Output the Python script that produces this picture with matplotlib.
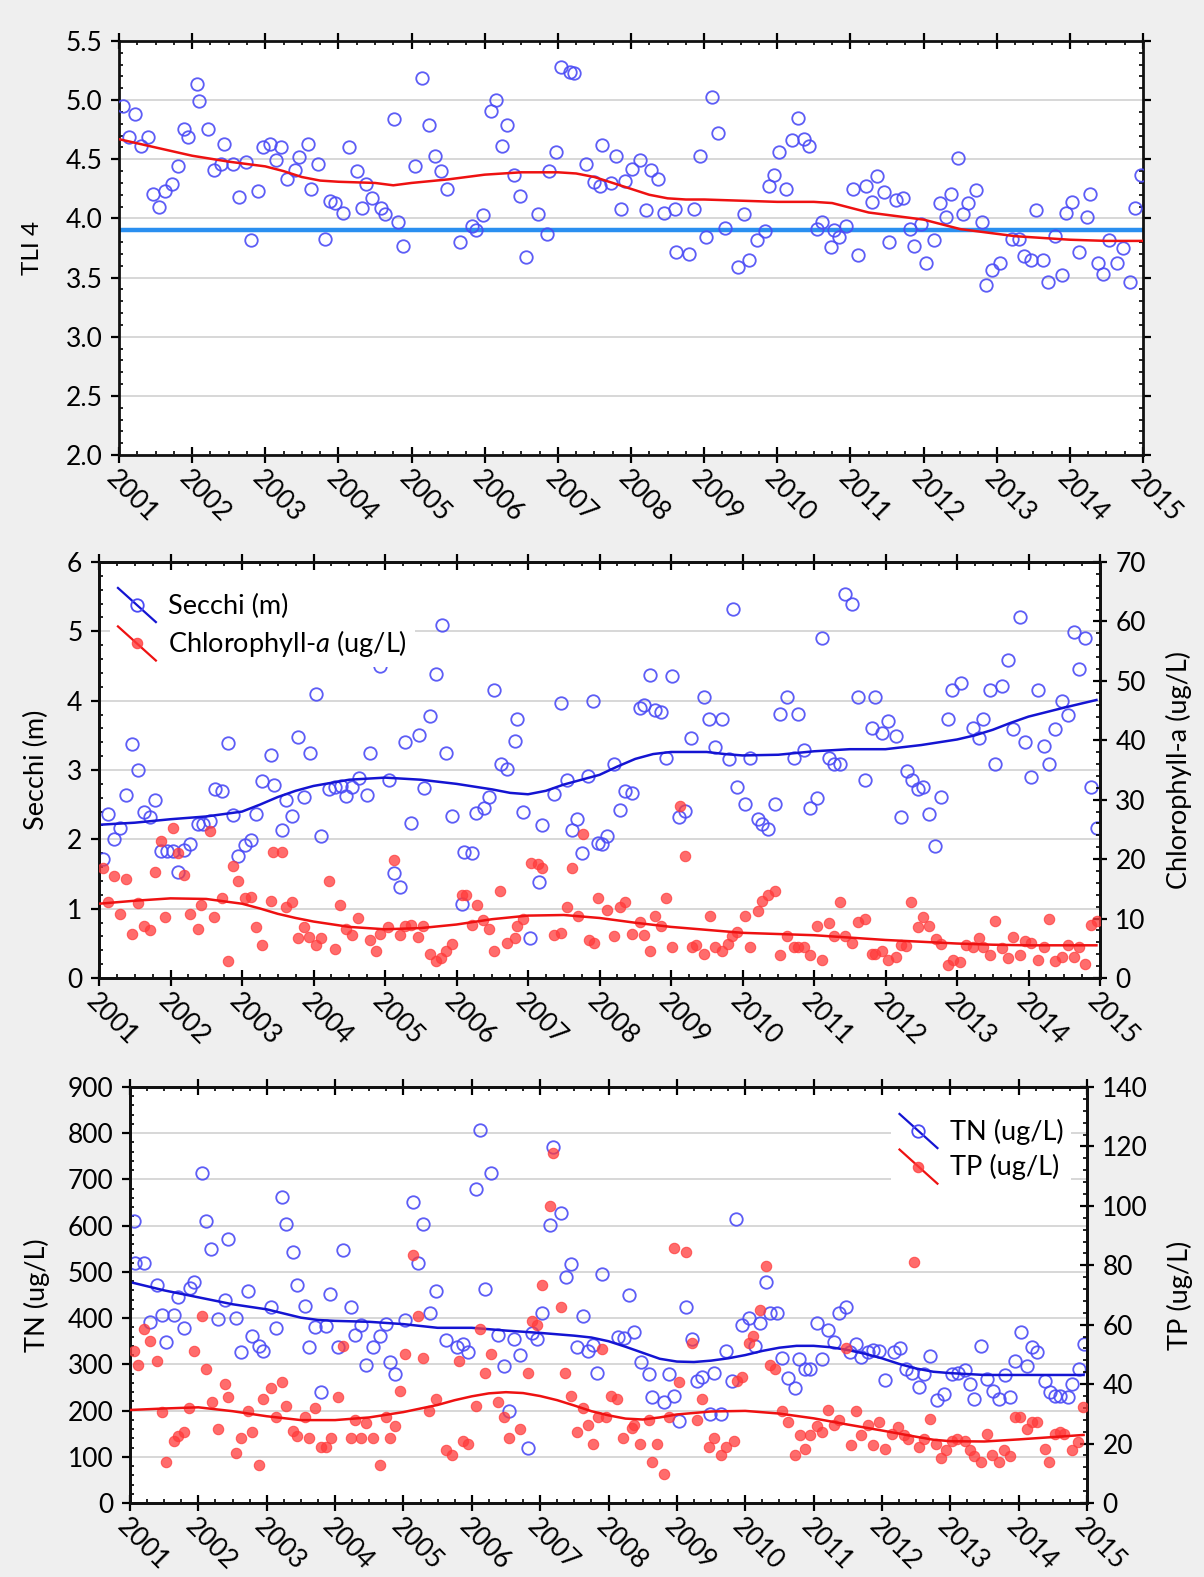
import numpy as np
import matplotlib
matplotlib.use("Agg")
import matplotlib.pyplot as plt
from matplotlib.lines import Line2D
from matplotlib.legend_handler import HandlerBase
from matplotlib.ticker import MultipleLocator, FormatStrFormatter

plt.rcParams['font.family'] = ['Lato', 'DejaVu Sans']
plt.rcParams['mathtext.fontset'] = 'custom'
plt.rcParams['mathtext.it'] = 'Lato:italic'
plt.rcParams['mathtext.rm'] = 'Lato'

# ---------------- data ----------------
years = list(range(2001, 2016))

tli_year = [2001.05, 2001.22, 2001.13, 2001.30, 2001.39, 2001.47, 2001.55, 2001.63, 2001.72, 2001.80,
            2001.89, 2001.94, 2002.06, 2002.10, 2002.21, 2002.30, 2002.39, 2002.44, 2002.56, 2002.64,
            2002.73, 2002.81, 2002.90, 2002.97, 2003.06, 2003.14, 2003.22, 2003.30, 2003.40, 2003.46,
            2003.58, 2003.63, 2003.72, 2003.81, 2003.88, 2003.95, 2004.06, 2004.14, 2004.25, 2004.32,
            2004.38, 2004.46, 2004.58, 2004.64, 2004.76, 2004.81, 2004.88, 2005.05, 2005.14, 2005.24,
            2005.32, 2005.40, 2005.48, 2005.66, 2005.82, 2005.88, 2005.97, 2006.09, 2006.15, 2006.24,
            2006.31, 2006.40, 2006.48, 2006.57, 2006.73, 2006.85, 2006.88, 2006.97, 2007.04, 2007.17,
            2007.22, 2007.39, 2007.49, 2007.57, 2007.60, 2007.72, 2007.79, 2007.87, 2007.92, 2008.02,
            2008.12, 2008.20, 2008.28, 2008.37, 2008.45, 2008.60, 2008.61, 2008.79, 2008.86, 2008.94,
            2009.03, 2009.11, 2009.19, 2009.29, 2009.46, 2009.54, 2009.61, 2009.72, 2009.83, 2009.88,
            2009.95, 2010.03, 2010.12, 2010.20, 2010.29, 2010.36, 2010.44, 2010.54, 2010.61, 2010.73,
            2010.78, 2010.85, 2010.94, 2011.03, 2011.11, 2011.21, 2011.29, 2011.37, 2011.46, 2011.53,
            2011.62, 2011.72, 2011.81, 2011.87, 2011.96, 2012.04, 2012.14, 2012.23, 2012.30, 2012.37,
            2012.47, 2012.54, 2012.61, 2012.71, 2012.80, 2012.86, 2012.93, 2013.04, 2013.21, 2013.31,
            2013.37, 2013.47, 2013.54, 2013.63, 2013.70, 2013.80, 2013.89, 2013.95, 2014.03, 2014.12,
            2014.23, 2014.28, 2014.39, 2014.45, 2014.54, 2014.64, 2014.73, 2014.82, 2014.89, 2014.97]
tli_val = [4.95, 4.88, 4.69, 4.61, 4.69, 4.21, 4.10, 4.23, 4.29, 4.44,
           4.76, 4.69, 5.14, 4.99, 4.76, 4.41, 4.46, 4.63, 4.46, 4.18,
           4.48, 3.82, 4.23, 4.60, 4.63, 4.49, 4.60, 4.33, 4.41, 4.52,
           4.63, 4.25, 4.46, 3.83, 4.15, 4.13, 4.05, 4.60, 4.40, 4.09,
           4.29, 4.17, 4.09, 4.04, 4.84, 3.97, 3.77, 4.44, 5.19, 4.79,
           4.53, 4.40, 4.25, 3.80, 3.94, 3.90, 4.03, 4.91, 5.00, 4.61,
           4.79, 4.37, 4.19, 3.67, 4.04, 3.87, 4.40, 4.56, 5.28, 5.24,
           5.23, 4.46, 4.31, 4.27, 4.62, 4.30, 4.53, 4.08, 4.32, 4.42,
           4.49, 4.07, 4.41, 4.33, 4.05, 4.08, 3.72, 3.70, 4.08, 4.53,
           3.84, 5.03, 4.72, 3.92, 3.59, 4.04, 3.65, 3.82, 3.89, 4.27,
           4.37, 4.56, 4.25, 4.66, 4.85, 4.67, 4.61, 3.91, 3.97, 3.76,
           3.90, 3.84, 3.94, 4.25, 3.69, 4.27, 4.14, 4.36, 4.22, 3.80,
           4.16, 4.17, 3.91, 3.77, 3.95, 3.62, 3.82, 4.13, 4.01, 4.21,
           4.51, 4.04, 4.13, 4.24, 3.97, 3.44, 3.56, 3.62, 3.83, 3.83,
           3.68, 3.65, 4.07, 3.65, 3.46, 3.85, 3.52, 4.05, 4.14, 3.72,
           4.01, 4.21, 3.62, 3.53, 3.82, 3.62, 3.75, 3.46, 4.09, 4.37]
tli_trend_year = [2001.0, 2001.5, 2002.0, 2002.5, 2003.0, 2003.25, 2003.5, 2003.75, 2004.0, 2004.5,
                  2004.75, 2005.0, 2005.5, 2006.0, 2006.5, 2007.0, 2007.25, 2007.5, 2007.75, 2008.0,
                  2008.25, 2008.5, 2008.75, 2009.0, 2009.5, 2010.0, 2010.5, 2010.75, 2011.0, 2011.25,
                  2011.5, 2011.75, 2012.0, 2012.25, 2012.5, 2012.75, 2013.0, 2013.25, 2013.5, 2014.0,
                  2014.5, 2015.0]
tli_trend = [4.67, 4.60, 4.53, 4.48, 4.44, 4.40, 4.35, 4.32, 4.31, 4.30,
             4.28, 4.30, 4.33, 4.37, 4.39, 4.39, 4.38, 4.35, 4.30, 4.25,
             4.20, 4.17, 4.16, 4.16, 4.15, 4.14, 4.14, 4.13, 4.09, 4.05,
             4.03, 4.01, 3.99, 3.95, 3.91, 3.89, 3.87, 3.85, 3.84, 3.82,
             3.81, 3.81]
tli_target = 3.9

secchi_year = [2001.05, 2001.13, 2001.21, 2001.29, 2001.38, 2001.46, 2001.54, 2001.63, 2001.72, 2001.78,
               2001.87, 2001.95, 2002.03, 2002.10, 2002.19, 2002.27, 2002.38, 2002.45, 2002.55, 2002.62,
               2002.72, 2002.80, 2002.88, 2002.95, 2003.04, 2003.13, 2003.20, 2003.28, 2003.40, 2003.45,
               2003.56, 2003.62, 2003.70, 2003.79, 2003.87, 2003.95, 2004.03, 2004.11, 2004.22, 2004.30,
               2004.38, 2004.45, 2004.54, 2004.64, 2004.75, 2004.79, 2004.87, 2004.93, 2005.05, 2005.13,
               2005.21, 2005.28, 2005.37, 2005.47, 2005.54, 2005.63, 2005.72, 2005.80, 2005.86, 2005.94,
               2006.08, 2006.11, 2006.21, 2006.27, 2006.39, 2006.46, 2006.52, 2006.62, 2006.71, 2006.82,
               2006.85, 2006.93, 2007.03, 2007.15, 2007.19, 2007.36, 2007.46, 2007.55, 2007.62, 2007.69,
               2007.76, 2007.84, 2007.91, 2007.98, 2008.03, 2008.11, 2008.20, 2008.28, 2008.36, 2008.46,
               2008.57, 2008.62, 2008.70, 2008.78, 2008.86, 2008.93, 2009.02, 2009.11, 2009.20, 2009.28,
               2009.46, 2009.53, 2009.62, 2009.72, 2009.81, 2009.87, 2009.93, 2010.03, 2010.11, 2010.21,
               2010.27, 2010.36, 2010.45, 2010.52, 2010.62, 2010.72, 2010.78, 2010.86, 2010.94, 2011.04,
               2011.11, 2011.21, 2011.28, 2011.37, 2011.44, 2011.53, 2011.62, 2011.71, 2011.81, 2011.86,
               2011.95, 2012.04, 2012.14, 2012.22, 2012.30, 2012.37, 2012.46, 2012.53, 2012.61, 2012.69,
               2012.78, 2012.87, 2012.93, 2013.05, 2013.22, 2013.31, 2013.37, 2013.46, 2013.53, 2013.63,
               2013.71, 2013.79, 2013.88, 2013.95, 2014.04, 2014.13, 2014.21, 2014.28, 2014.37, 2014.47,
               2014.55, 2014.63, 2014.70, 2014.79, 2014.88, 2014.96]
secchi_val = [1.72, 2.37, 2.01, 2.16, 2.64, 3.37, 3.00, 2.39, 2.32, 2.57,
              1.83, 1.83, 1.83, 1.53, 1.84, 1.93, 2.22, 2.22, 2.26, 2.73,
              2.70, 3.39, 2.35, 1.76, 1.92, 1.99, 2.37, 2.84, 3.22, 2.78,
              2.14, 2.57, 2.34, 3.47, 2.61, 3.24, 4.10, 2.05, 2.73, 2.75,
              2.77, 2.62, 2.75, 2.88, 2.64, 3.25, 5.06, 4.50, 2.85, 1.51,
              1.31, 3.40, 2.23, 3.51, 2.74, 3.78, 4.39, 5.09, 3.24, 2.34,
              1.07, 1.82, 1.80, 2.38, 2.45, 2.61, 4.16, 3.09, 3.01, 3.42,
              3.74, 2.39, 0.58, 1.38, 2.20, 2.65, 3.97, 2.86, 2.13, 2.29,
              1.80, 2.92, 4.00, 1.95, 1.93, 2.05, 3.09, 2.43, 2.70, 2.67,
              3.89, 3.94, 4.37, 3.86, 3.83, 3.17, 4.35, 2.32, 2.41, 3.46,
              4.05, 3.74, 3.33, 3.74, 3.16, 5.32, 2.75, 2.51, 3.18, 2.29,
              2.22, 2.15, 2.51, 3.81, 4.05, 3.18, 3.81, 3.29, 2.45, 2.59,
              4.90, 3.18, 3.09, 3.09, 5.54, 5.40, 4.06, 2.85, 3.60, 4.05,
              3.54, 3.70, 3.49, 2.32, 2.99, 2.85, 2.72, 2.76, 2.37, 1.90,
              2.61, 3.74, 4.15, 4.25, 3.60, 3.46, 3.74, 4.15, 3.09, 4.21,
              4.59, 3.59, 5.20, 3.41, 2.90, 4.15, 3.35, 3.09, 3.59, 4.00,
              3.80, 4.99, 4.45, 4.90, 2.75, 2.16]
secchi_trend_year = [2001.0, 2001.5, 2002.0, 2002.5, 2003.0, 2003.25, 2003.5, 2003.75, 2004.0, 2004.5,
                     2005.0, 2005.5, 2006.0, 2006.5, 2006.75, 2007.0, 2007.25, 2007.5, 2007.75, 2008.0,
                     2008.25, 2008.5, 2008.75, 2009.0, 2009.5, 2009.75, 2010.0, 2010.5, 2011.0, 2011.5,
                     2012.0, 2012.5, 2013.0, 2013.25, 2013.5, 2013.75, 2014.0, 2014.5, 2014.95]
secchi_trend = [2.21, 2.24, 2.29, 2.33, 2.40, 2.50, 2.61, 2.70, 2.77, 2.86,
                2.89, 2.86, 2.80, 2.72, 2.67, 2.65, 2.70, 2.79, 2.86, 2.93,
                3.05, 3.16, 3.23, 3.26, 3.26, 3.23, 3.21, 3.22, 3.27, 3.30,
                3.30, 3.36, 3.44, 3.50, 3.58, 3.68, 3.77, 3.90, 4.01]

chl_year = [2001.05, 2001.13, 2001.21, 2001.29, 2001.38, 2001.46, 2001.54, 2001.63, 2001.72, 2001.78,
            2001.87, 2001.93, 2002.04, 2002.10, 2002.19, 2002.27, 2002.42, 2002.38, 2002.55, 2002.61,
            2002.72, 2002.80, 2002.88, 2002.94, 2003.04, 2003.13, 2003.20, 2003.28, 2003.40, 2003.44,
            2003.56, 2003.62, 2003.70, 2003.79, 2003.87, 2003.94, 2004.03, 2004.11, 2004.22, 2004.30,
            2004.37, 2004.45, 2004.54, 2004.62, 2004.75, 2004.79, 2004.87, 2004.93, 2005.04, 2005.13,
            2005.21, 2005.28, 2005.37, 2005.46, 2005.53, 2005.63, 2005.72, 2005.79, 2005.86, 2005.94,
            2006.08, 2006.13, 2006.21, 2006.29, 2006.37, 2006.45, 2006.52, 2006.61, 2006.71, 2006.82,
            2006.85, 2006.93, 2007.04, 2007.14, 2007.19, 2007.36, 2007.46, 2007.55, 2007.62, 2007.70,
            2007.77, 2007.86, 2007.93, 2007.98, 2008.11, 2008.20, 2008.28, 2008.36, 2008.46, 2008.57,
            2008.62, 2008.70, 2008.78, 2008.86, 2008.93, 2009.02, 2009.12, 2009.19, 2009.29, 2009.35,
            2009.46, 2009.54, 2009.62, 2009.72, 2009.80, 2009.85, 2009.93, 2010.03, 2010.11, 2010.21,
            2010.27, 2010.36, 2010.45, 2010.52, 2010.62, 2010.72, 2010.78, 2010.86, 2010.94, 2011.04,
            2011.11, 2011.21, 2011.28, 2011.37, 2011.44, 2011.53, 2011.62, 2011.71, 2011.81, 2011.86,
            2011.95, 2012.04, 2012.14, 2012.22, 2012.28, 2012.36, 2012.46, 2012.53, 2012.61, 2012.70,
            2012.78, 2012.87, 2012.94, 2013.04, 2013.13, 2013.22, 2013.31, 2013.37, 2013.46, 2013.53,
            2013.63, 2013.71, 2013.79, 2013.88, 2013.95, 2014.04, 2014.13, 2014.21, 2014.28, 2014.37,
            2014.47, 2014.55, 2014.63, 2014.70, 2014.79, 2014.87, 2014.96]
chl_val = [18.5, 12.8, 17.1, 10.8, 16.6, 7.4, 12.7, 8.7, 8.0, 17.8,
           23.1, 10.2, 25.2, 21.0, 17.4, 10.8, 12.3, 8.3, 24.7, 10.2,
           13.4, 2.8, 18.8, 16.3, 13.4, 13.6, 8.5, 5.6, 13.0, 21.2,
           21.2, 12.0, 12.8, 6.7, 8.5, 6.9, 5.5, 6.7, 16.4, 4.9,
           12.2, 8.3, 7.2, 10.1, 63.8, 6.4, 4.5, 7.4, 8.6, 19.8,
           7.2, 8.8, 9.0, 6.9, 8.8, 4.1, 2.8, 3.4, 4.6, 5.7,
           14.0, 14.0, 9.0, 12.3, 9.8, 8.3, 4.5, 14.6, 5.9, 6.7,
           8.8, 10.0, 19.3, 19.2, 18.5, 7.3, 7.6, 12.0, 18.5, 10.4,
           24.2, 6.4, 5.9, 13.4, 11.5, 7.1, 12.0, 12.8, 7.4, 9.5,
           7.2, 4.5, 10.4, 8.8, 13.4, 5.2, 28.9, 20.5, 5.2, 5.6,
           4.0, 10.4, 5.2, 4.5, 5.8, 7.1, 7.8, 10.4, 5.2, 11.2,
           13.0, 14.0, 14.6, 3.8, 7.1, 5.2, 5.2, 5.2, 3.8, 8.8,
           3.1, 9.3, 7.1, 12.8, 7.1, 5.9, 9.5, 9.9, 4.1, 4.1,
           4.5, 3.0, 3.5, 5.5, 5.4, 12.8, 8.6, 10.2, 8.8, 6.6,
           5.8, 2.2, 3.1, 2.7, 5.5, 5.2, 6.7, 5.2, 3.8, 9.6,
           5.0, 3.4, 6.9, 3.9, 6.3, 5.9, 3.1, 5.2, 9.9, 2.8,
           3.5, 5.6, 3.5, 5.2, 2.4, 9.0, 9.6]
chl_trend_year = [2001.0, 2001.5, 2002.0, 2002.5, 2003.0, 2003.25, 2003.5, 2003.75, 2004.0, 2004.5,
                  2005.0, 2005.5, 2006.0, 2006.5, 2007.0, 2007.5, 2008.0, 2008.5, 2009.0, 2009.5,
                  2010.0, 2010.5, 2011.0, 2011.5, 2012.0, 2012.5, 2013.0, 2013.5, 2014.0, 2014.95]
chl_trend = [12.5, 13.0, 13.4, 13.3, 12.5, 11.7, 10.8, 10.1, 9.5, 8.6,
             8.2, 8.4, 9.0, 9.9, 10.5, 10.6, 10.1, 9.3, 8.6, 8.1,
             7.6, 7.4, 7.2, 6.8, 6.4, 6.1, 5.8, 5.6, 5.5, 5.5]

tn_year = [2001.06, 2001.08, 2001.21, 2001.29, 2001.39, 2001.47, 2001.53, 2001.65, 2001.70, 2001.79,
           2001.88, 2001.94, 2002.05, 2002.11, 2002.19, 2002.29, 2002.39, 2002.44, 2002.55, 2002.63,
           2002.72, 2002.79, 2002.88, 2002.95, 2003.06, 2003.13, 2003.22, 2003.28, 2003.38, 2003.44,
           2003.56, 2003.62, 2003.70, 2003.79, 2003.87, 2003.93, 2004.04, 2004.11, 2004.23, 2004.29,
           2004.38, 2004.45, 2004.56, 2004.65, 2004.75, 2004.80, 2004.87, 2005.03, 2005.14, 2005.21,
           2005.29, 2005.39, 2005.47, 2005.63, 2005.79, 2005.87, 2005.95, 2006.06, 2006.12, 2006.20,
           2006.28, 2006.38, 2006.47, 2006.54, 2006.62, 2006.71, 2006.82, 2006.88, 2006.95, 2007.03,
           2007.14, 2007.19, 2007.30, 2007.38, 2007.45, 2007.54, 2007.62, 2007.70, 2007.78, 2007.83,
           2007.90, 2008.14, 2008.23, 2008.30, 2008.37, 2008.47, 2008.59, 2008.63, 2008.81, 2008.88,
           2008.96, 2009.03, 2009.13, 2009.22, 2009.29, 2009.37, 2009.49, 2009.55, 2009.64, 2009.72,
           2009.81, 2009.87, 2009.95, 2010.05, 2010.14, 2010.22, 2010.30, 2010.36, 2010.47, 2010.54,
           2010.62, 2010.73, 2010.78, 2010.87, 2010.95, 2011.05, 2011.12, 2011.21, 2011.30, 2011.37,
           2011.47, 2011.53, 2011.62, 2011.69, 2011.79, 2011.87, 2011.96, 2012.04, 2012.17, 2012.27,
           2012.35, 2012.44, 2012.54, 2012.62, 2012.71, 2012.80, 2012.91, 2013.03, 2013.12, 2013.21,
           2013.29, 2013.35, 2013.45, 2013.54, 2013.62, 2013.71, 2013.80, 2013.88, 2013.95, 2014.03,
           2014.12, 2014.20, 2014.27, 2014.38, 2014.46, 2014.53, 2014.61, 2014.72, 2014.78, 2014.89,
           2014.95]
tn_val = [610, 519, 519, 391, 471, 407, 349, 407, 446, 378,
          466, 478, 713, 610, 550, 399, 439, 571, 401, 326,
          459, 362, 339, 329, 424, 378, 663, 604, 544, 472,
          427, 338, 380, 240, 383, 452, 337, 547, 424, 363,
          386, 299, 338, 362, 387, 304, 279, 396, 651, 520,
          604, 412, 458, 353, 337, 344, 326, 680, 806, 463,
          713, 363, 297, 200, 355, 321, 119, 368, 355, 411,
          601, 771, 627, 488, 517, 337, 405, 329, 342, 281,
          495, 360, 358, 450, 371, 304, 279, 229, 218, 279,
          232, 178, 423, 355, 263, 272, 193, 281, 193, 329,
          263, 614, 385, 401, 339, 389, 478, 412, 411, 313,
          270, 248, 312, 290, 290, 389, 312, 375, 349, 411,
          425, 326, 345, 315, 327, 332, 329, 266, 327, 335,
          290, 281, 250, 279, 317, 223, 236, 279, 281, 288,
          258, 225, 339, 268, 243, 224, 276, 229, 308, 369,
          297, 337, 326, 265, 241, 231, 231, 230, 258, 290,
          345]
tn_trend_year = [2001.0, 2001.5, 2002.0, 2002.5, 2003.0, 2003.25, 2003.5, 2003.75, 2004.0, 2004.5,
                 2005.0, 2005.5, 2006.0, 2006.5, 2007.0, 2007.5, 2007.75, 2008.0, 2008.25, 2008.5,
                 2008.75, 2009.0, 2009.25, 2009.5, 2009.75, 2010.0, 2010.25, 2010.5, 2010.75, 2011.0,
                 2011.25, 2011.5, 2011.75, 2012.0, 2012.25, 2012.5, 2012.75, 2013.0, 2013.5, 2014.0,
                 2014.95]
tn_trend = [478, 460, 445, 430, 419, 410, 401, 396, 394, 392,
            387, 379, 379, 373, 368, 362, 358, 350, 338, 325,
            312, 306, 305, 308, 313, 320, 329, 336, 340, 340,
            337, 331, 323, 313, 301, 291, 284, 281, 277, 277,
            277]

tp_year = [2001.06, 2001.11, 2001.21, 2001.29, 2001.39, 2001.47, 2001.53, 2001.65, 2001.70, 2001.79,
           2001.87, 2001.94, 2002.06, 2002.11, 2002.20, 2002.29, 2002.39, 2002.44, 2002.55, 2002.63,
           2002.72, 2002.79, 2002.89, 2002.95, 2003.06, 2003.13, 2003.22, 2003.28, 2003.38, 2003.44,
           2003.56, 2003.62, 2003.70, 2003.79, 2003.87, 2003.94, 2004.04, 2004.11, 2004.23, 2004.29,
           2004.38, 2004.45, 2004.56, 2004.65, 2004.75, 2004.80, 2004.87, 2004.95, 2005.03, 2005.14,
           2005.21, 2005.29, 2005.38, 2005.47, 2005.63, 2005.71, 2005.81, 2005.87, 2005.95, 2006.06,
           2006.12, 2006.20, 2006.28, 2006.38, 2006.47, 2006.54, 2006.71, 2006.82, 2006.88, 2006.95,
           2007.03, 2007.14, 2007.19, 2007.30, 2007.37, 2007.45, 2007.54, 2007.62, 2007.70, 2007.78,
           2007.84, 2007.90, 2007.96, 2008.04, 2008.13, 2008.21, 2008.34, 2008.38, 2008.46, 2008.59,
           2008.63, 2008.71, 2008.81, 2008.88, 2008.96, 2009.03, 2009.14, 2009.22, 2009.30, 2009.37,
           2009.47, 2009.55, 2009.64, 2009.72, 2009.83, 2009.88, 2009.96, 2010.05, 2010.11, 2010.22,
           2010.30, 2010.36, 2010.44, 2010.54, 2010.62, 2010.73, 2010.80, 2010.87, 2010.95, 2011.05,
           2011.12, 2011.21, 2011.30, 2011.37, 2011.47, 2011.55, 2011.62, 2011.70, 2011.79, 2011.87,
           2011.96, 2012.04, 2012.15, 2012.24, 2012.32, 2012.38, 2012.47, 2012.54, 2012.62, 2012.71,
           2012.79, 2012.86, 2012.93, 2013.02, 2013.10, 2013.21, 2013.29, 2013.35, 2013.45, 2013.54,
           2013.61, 2013.71, 2013.78, 2013.88, 2013.95, 2014.02, 2014.12, 2014.20, 2014.27, 2014.38,
           2014.44, 2014.53, 2014.61, 2014.67, 2014.78, 2014.87, 2014.94]
tp_val = [51.2, 46.4, 58.7, 54.4, 47.9, 30.5, 13.8, 21.0, 22.7, 23.8,
          31.9, 51.0, 62.8, 45.1, 33.9, 25.0, 40.1, 35.8, 16.9, 21.8,
          31.1, 23.8, 12.9, 35.0, 38.6, 28.9, 40.8, 32.8, 24.1, 22.7,
          28.9, 21.8, 31.9, 18.8, 18.8, 21.8, 35.8, 52.7, 21.8, 27.8,
          21.8, 27.0, 21.8, 12.9, 28.9, 21.8, 25.8, 37.8, 50.1, 83.5,
          62.8, 48.8, 31.1, 35.0, 17.7, 16.0, 47.9, 21.0, 19.9, 32.8,
          58.7, 43.8, 50.1, 33.9, 28.9, 21.8, 25.0, 43.8, 61.3, 60.0,
          73.4, 99.9, 117.8, 65.8, 43.8, 35.9, 23.8, 31.9, 26.1, 19.9,
          28.9, 51.8, 28.9, 36.1, 35.0, 21.8, 25.2, 26.1, 19.9, 27.8,
          13.8, 19.9, 9.8, 28.9, 85.9, 40.8, 84.6, 54.0, 27.8, 35.0,
          18.8, 21.8, 16.0, 18.8, 21.0, 41.2, 42.3, 53.8, 56.3, 65.0,
          79.6, 46.4, 45.1, 31.1, 27.4, 16.0, 22.9, 18.2, 22.9, 25.8,
          23.8, 31.4, 26.3, 27.8, 52.0, 19.6, 30.8, 22.9, 26.1, 19.6,
          27.4, 18.2, 23.3, 25.5, 22.9, 21.6, 81.1, 18.8, 21.6, 28.3,
          19.9, 15.2, 17.7, 21.0, 21.6, 21.0, 17.7, 15.8, 13.8, 23.3,
          16.0, 13.8, 17.7, 15.8, 28.9, 28.9, 25.0, 27.4, 27.4, 18.2,
          13.8, 23.3, 23.8, 23.3, 17.7, 20.5, 32.2]
tp_trend_year = [2001.0, 2001.5, 2002.0, 2002.5, 2003.0, 2003.5, 2004.0, 2004.5, 2005.0, 2005.5,
                 2005.75, 2006.0, 2006.25, 2006.5, 2006.75, 2007.0, 2007.25, 2007.5, 2007.75, 2008.0,
                 2008.25, 2008.5, 2008.75, 2009.0, 2009.5, 2010.0, 2010.5, 2011.0, 2011.5, 2012.0,
                 2012.5, 2012.75, 2013.0, 2013.5, 2014.0, 2014.95]
tp_trend = [31.3, 31.8, 32.2, 30.9, 29.2, 27.9, 27.9, 28.8, 30.6, 33.0,
            34.6, 35.9, 36.9, 37.3, 37.0, 36.0, 34.6, 32.8, 30.9, 29.5,
            28.4, 28.1, 28.8, 29.8, 30.8, 31.0, 30.1, 28.5, 26.4, 24.4,
            22.3, 21.3, 20.8, 20.7, 21.4, 22.9]

# ---------------- styles ----------------
BLUE_PT = '#4b4bf5'
RED_PT = '#ff3b3b'
BLUE_LN = '#1414d2'
RED_LN = '#ee1111'
GRID = '#d4d4d4'
TICK_FS = 19
LAB_FS1 = 17.5
LAB_FS = 19.5
LEG_FS = 19.5

W, H = 1204, 1577
fig = plt.figure(figsize=(W / 100, H / 100), dpi=100, facecolor='#efefef')


def add_ax(x0, y0, x1, y1):
    return fig.add_axes([x0 / W, 1 - y1 / H, (x1 - x0) / W, (y1 - y0) / H])


def style_x(ax):
    ax.set_xlim(2001, 2015)
    ax.set_xticks(years)
    ax.set_xticklabels([str(y) for y in years])
    ax.xaxis.set_minor_locator(MultipleLocator(0.25))
    ax.tick_params(axis='x', which='major', direction='inout', length=12, width=1.6,
                   labelsize=TICK_FS, top=True, pad=2)
    ax.tick_params(axis='x', which='minor', direction='in', length=3, width=1.2, top=True)
    for lab in ax.get_xticklabels():
        lab.set_rotation(-45)
        lab.set_ha('left')
        lab.set_va('top')
        lab.set_rotation_mode('anchor')


def style_spines(ax):
    for s in ax.spines.values():
        s.set_linewidth(2.0)
        s.set_color('#111111')


class DiagHandler(HandlerBase):
    def create_artists(self, legend, orig, xd, yd, width, height, fontsize, trans):
        x0, x1 = -xd, -xd + width
        yb, yt = -yd - 0.45 * height, -yd + 1.35 * height
        ln = Line2D([x0, x1], [yt, yb], color=orig.get_color(), lw=orig.get_linewidth(),
                    transform=trans)
        mk = Line2D([(x0 + x1) / 2], [(yt + yb) / 2], ls='none', marker='o',
                    ms=orig.get_markersize(), mfc=orig.get_markerfacecolor(),
                    mec=orig.get_markeredgecolor(), mew=orig.get_markeredgewidth(),
                    alpha=orig.get_alpha(), transform=trans)
        return [ln, mk]


# ---------------- Panel 1: TLI ----------------
ax1 = add_ax(119, 41, 1143, 455)
ax1.set_facecolor('white')
ax1.set_ylim(2.0, 5.5)
ax1.yaxis.set_major_locator(MultipleLocator(0.5))
ax1.yaxis.set_minor_locator(MultipleLocator(0.1))
ax1.yaxis.set_major_formatter(FormatStrFormatter('%.1f'))
ax1.grid(axis='y', which='major', color=GRID, lw=1.3, zorder=0)
ax1.axhline(tli_target, color='#2a8ff0', lw=3.2, zorder=2)
ax1.plot(tli_year, tli_val, ls='none', marker='o', ms=9, mfc='none', mec=BLUE_PT, mew=1.3,
         alpha=0.9, zorder=3)
ax1.plot(tli_trend_year, tli_trend, color=RED_LN, lw=1.8, zorder=4)
ax1.tick_params(axis='y', which='major', direction='out', length=6, width=1.6, labelsize=TICK_FS,
                right=True, pad=6)
ax1.tick_params(axis='y', which='minor', direction='in', length=3, width=1.2, right=True)
ax1.set_ylabel('TLI 4', fontsize=LAB_FS1)
ax1.yaxis.set_label_coords(-0.074, 0.5)
style_x(ax1)
style_spines(ax1)

# ---------------- Panel 2: Secchi / Chl-a ----------------
ax2 = add_ax(99, 562, 1100, 978)
ax2.set_facecolor('white')
ax2.set_ylim(0, 6)
ax2.yaxis.set_major_locator(MultipleLocator(1))
ax2.yaxis.set_minor_locator(MultipleLocator(0.2))
ax2.grid(axis='y', which='major', color=GRID, lw=1.3, zorder=0)
ax2.plot(secchi_year, secchi_val, ls='none', marker='o', ms=9, mfc='none', mec=BLUE_PT, mew=1.3,
         alpha=0.9, zorder=3)
ax2.plot(secchi_trend_year, secchi_trend, color=BLUE_LN, lw=1.8, zorder=4)
ax2.tick_params(axis='y', which='major', direction='out', length=6, width=1.6, labelsize=TICK_FS, pad=6)
ax2.tick_params(axis='y', which='minor', direction='in', length=3, width=1.2)
ax2.set_ylabel('Secchi (m)', fontsize=LAB_FS)
ax2.yaxis.set_label_coords(-0.050, 0.5)
style_x(ax2)
style_spines(ax2)

ax2r = ax2.twinx()
ax2r.set_ylim(0, 70)
ax2r.yaxis.set_major_locator(MultipleLocator(10))
ax2r.yaxis.set_minor_locator(MultipleLocator(2))
ax2r.plot(chl_year, chl_val, ls='none', marker='o', ms=7.5, mfc=RED_PT, mec=RED_PT, mew=0.8,
          alpha=0.75, zorder=3)
ax2r.plot(chl_trend_year, chl_trend, color=RED_LN, lw=1.8, zorder=4)
ax2r.tick_params(axis='y', which='major', direction='inout', length=10, width=1.6, labelsize=TICK_FS, pad=6)
ax2r.tick_params(axis='y', which='minor', direction='in', length=3, width=1.2)
ax2r.set_ylabel('Chlorophyll-a (ug/L)', fontsize=LAB_FS)
ax2r.yaxis.set_label_coords(1.066, 0.5)
style_spines(ax2r)

h_secchi = Line2D([], [], color=BLUE_LN, lw=1.6, marker='o', ms=9, mfc='none', mec=BLUE_PT, mew=1.3)
h_chl = Line2D([], [], color=RED_LN, lw=1.6, marker='o', ms=7.5, mfc=RED_PT, mec=RED_PT, mew=0.8)
h_chl.set_alpha(0.8)
leg2 = ax2r.legend([h_secchi, h_chl], ['Secchi (m)', 'Chlorophyll-$a$ (ug/L)'],
                   handler_map={Line2D: DiagHandler()}, loc='upper left',
                   bbox_to_anchor=(0.0, 0.97), fontsize=LEG_FS, frameon=True,
                   facecolor='white', edgecolor='none', framealpha=1.0,
                   handlelength=1.4, handletextpad=0.45, labelspacing=0.35, borderpad=0.3,
                   borderaxespad=0.4)
leg2.set_zorder(10)

# ---------------- Panel 3: TN / TP ----------------
ax3 = add_ax(130, 1087, 1087, 1503)
ax3.set_facecolor('white')
ax3.set_ylim(0, 900)
ax3.yaxis.set_major_locator(MultipleLocator(100))
ax3.yaxis.set_minor_locator(MultipleLocator(20))
ax3.grid(axis='y', which='major', color=GRID, lw=1.3, zorder=0)
ax3.plot(tn_year, tn_val, ls='none', marker='o', ms=9, mfc='none', mec=BLUE_PT, mew=1.3,
         alpha=0.9, zorder=3)
ax3.plot(tn_trend_year, tn_trend, color=BLUE_LN, lw=1.8, zorder=4)
ax3.tick_params(axis='y', which='major', direction='out', length=6, width=1.6, labelsize=TICK_FS, pad=6)
ax3.tick_params(axis='y', which='minor', direction='in', length=3, width=1.2)
ax3.set_ylabel('TN (ug/L)', fontsize=LAB_FS)
ax3.yaxis.set_label_coords(-0.084, 0.5)
style_x(ax3)
style_spines(ax3)

ax3r = ax3.twinx()
ax3r.set_ylim(0, 140)
ax3r.yaxis.set_major_locator(MultipleLocator(20))
ax3r.yaxis.set_minor_locator(MultipleLocator(4))
ax3r.plot(tp_year, tp_val, ls='none', marker='o', ms=7.5, mfc=RED_PT, mec=RED_PT, mew=0.8,
          alpha=0.75, zorder=3)
ax3r.plot(tp_trend_year, tp_trend, color=RED_LN, lw=1.8, zorder=4)
ax3r.tick_params(axis='y', which='major', direction='inout', length=10, width=1.6, labelsize=TICK_FS, pad=6)
ax3r.tick_params(axis='y', which='minor', direction='in', length=3, width=1.2)
ax3r.set_ylabel('TP (ug/L)', fontsize=LAB_FS)
ax3r.yaxis.set_label_coords(1.083, 0.5)
style_spines(ax3r)

h_tn = Line2D([], [], color=BLUE_LN, lw=1.6, marker='o', ms=9, mfc='none', mec=BLUE_PT, mew=1.3)
h_tp = Line2D([], [], color=RED_LN, lw=1.6, marker='o', ms=7.5, mfc=RED_PT, mec=RED_PT, mew=0.8)
h_tp.set_alpha(0.8)
leg3 = ax3r.legend([h_tn, h_tp], ['TN (ug/L)', 'TP (ug/L)'],
                   handler_map={Line2D: DiagHandler()}, loc='upper right',
                   bbox_to_anchor=(0.995, 0.97), fontsize=LEG_FS, frameon=True,
                   facecolor='white', edgecolor='none', framealpha=1.0,
                   handlelength=1.4, handletextpad=0.45, labelspacing=0.35, borderpad=0.3,
                   borderaxespad=0.4)
leg3.set_zorder(10)

fig.savefig('out.png', dpi=100, facecolor=fig.get_facecolor())
